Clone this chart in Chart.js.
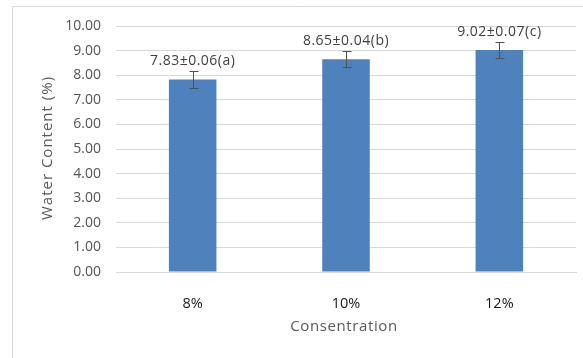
<!DOCTYPE html>
<html>
<head>
<meta charset="utf-8">
<script src="https://cdn.jsdelivr.net/npm/chart.js@4/dist/chart.umd.min.js"></script>
<style>
  html, body { margin: 0; padding: 0; background: #ffffff; }
  #wrap { width: 583px; height: 358px; position: relative; }
</style>
</head>
<body>
<div id="wrap"><canvas id="chart" width="583" height="358"></canvas></div>
<script>
// Water content by concentration
const categories = ['8%', '10%', '12%'];
const waterContent = [7.83, 8.65, 9.02];
const errorBars = [0.33, 0.33, 0.33];
const valueLabels = ['7.83±0.06(a)', '8.65±0.04(b)', '9.02±0.07(c)'];
const yTicks = [0, 1, 2, 3, 4, 5, 6, 7, 8, 9, 10];

const FONT = '"Open Sans", "Noto Sans", sans-serif';

// Outer frame of the chart object
const framePlugin = {
  id: 'frame',
  beforeDraw(chart) {
    const ctx = chart.ctx;
    ctx.save();
    ctx.strokeStyle = '#d9d9d9';
    ctx.lineWidth = 1;
    ctx.beginPath();
    ctx.moveTo(12.5, chart.height);
    ctx.lineTo(12.5, 6.5);
    ctx.lineTo(chart.width, 6.5);
    ctx.stroke();
    ctx.restore();
  }
};

// Error bars and value labels above each bar
const barExtrasPlugin = {
  id: 'barExtras',
  afterDatasetsDraw(chart) {
    const ctx = chart.ctx;
    const meta = chart.getDatasetMeta(0);
    const y = chart.scales.y;
    ctx.save();
    meta.data.forEach((bar, i) => {
      const v = waterContent[i];
      const e = errorBars[i];
      const yt = Math.round(y.getPixelForValue(v + e)) + 0.5;
      const yb = Math.round(y.getPixelForValue(v - e)) + 0.5;
      const x = Math.round(bar.x) + 0.5;
      ctx.strokeStyle = '#505050';
      ctx.lineWidth = 1;
      ctx.beginPath();
      ctx.moveTo(x, yt); ctx.lineTo(x, yb);
      ctx.moveTo(x - 4, yt); ctx.lineTo(x + 5, yt);
      ctx.moveTo(x - 4, yb); ctx.lineTo(x + 5, yb);
      ctx.stroke();

      ctx.fillStyle = '#404040';
      ctx.font = '14px ' + FONT;
      ctx.letterSpacing = '0.5px';
      ctx.textAlign = 'center';
      ctx.textBaseline = 'middle';
      ctx.fillText(valueLabels[i], bar.x, y.getPixelForValue(v) - 18);
    });
    ctx.restore();
  }
};

// Axis titles
const axisTitlePlugin = {
  id: 'axisTitles',
  afterDraw(chart) {
    const ctx = chart.ctx;
    ctx.save();
    ctx.fillStyle = '#595959';
    ctx.font = '15px ' + FONT;
    ctx.letterSpacing = '0.6px';
    ctx.textAlign = 'center';
    ctx.textBaseline = 'middle';
    ctx.fillText('Consentration', 344, 327);
    ctx.translate(48, 148);
    ctx.rotate(-Math.PI / 2);
    ctx.letterSpacing = '1px';
    ctx.fillText('Water Content (%)', 0, 0);
    ctx.restore();
  }
};

new Chart(document.getElementById('chart'), {
  type: 'bar',
  data: {
    labels: categories,
    datasets: [{
      data: waterContent,
      backgroundColor: '#4f81bd',
      borderWidth: 0,
      categoryPercentage: 1.0,
      barPercentage: 0.31
    }]
  },
  options: {
    responsive: false,
    animation: false,
    devicePixelRatio: 1,
    layout: { padding: { top: 26, right: 7, left: 0, bottom: 0 } },
    plugins: { legend: { display: false }, tooltip: { enabled: false } },
    scales: {
      x: {
        grid: { display: false, drawTicks: false },
        border: { display: true, color: '#d9d9d9' },
        ticks: { color: '#1a1a1a', font: { family: FONT, size: 14.5 }, padding: 23 },
        afterFit(scale) { scale.height = 86; }
      },
      y: {
        min: 0,
        max: 10,
        afterBuildTicks(scale) { scale.ticks = yTicks.map(v => ({ value: v })); },
        grid: { color: '#d9d9d9', drawTicks: false },
        border: { display: false },
        ticks: {
          color: '#555555',
          font: { family: FONT, size: 14 },
          padding: 15,
          callback: v => Number(v).toFixed(2)
        },
        afterFit(scale) { scale.width = 116; }
      }
    }
  },
  plugins: [framePlugin, barExtrasPlugin, axisTitlePlugin]
});
</script>
</body>
</html>
